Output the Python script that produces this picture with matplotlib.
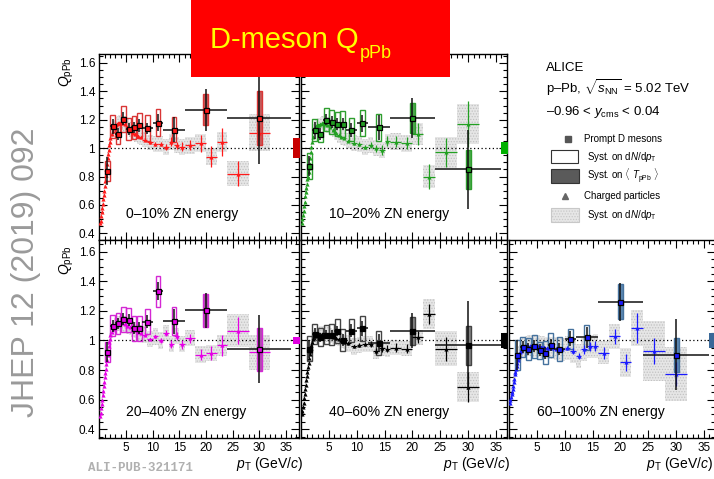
import matplotlib
matplotlib.use("Agg")
import matplotlib.pyplot as plt
from matplotlib.patches import Rectangle
from matplotlib.ticker import MultipleLocator, FixedLocator, FixedFormatter
from matplotlib.transforms import blended_transform_factory

plt.rcParams['font.family'] = ['Liberation Sans', 'DejaVu Sans']
plt.rcParams['mathtext.fontset'] = 'custom'
plt.rcParams['mathtext.rm'] = 'Liberation Sans'
plt.rcParams['mathtext.it'] = 'Liberation Sans:italic'
plt.rcParams['mathtext.bf'] = 'Liberation Sans:bold'
plt.rcParams['hatch.linewidth'] = 0.6

# ---------------- data ----------------
# Prompt D mesons
d_pt = [1.5, 2.5, 3.5, 4.5, 5.5, 6.5, 7.5, 9, 11, 14, 20, 30]
d_hw = [0.5, 0.5, 0.5, 0.5, 0.5, 0.5, 0.5, 1, 1, 2, 4, 6]

d_val_0_10 = [0.84, 1.153, 1.10, 1.207, 1.134, 1.146, 1.16, 1.14, 1.18, 1.13, 1.27, 1.21]
d_stat_0_10 = [0.10, 0.05, 0.04, 0.045, 0.04, 0.04, 0.045, 0.04, 0.06, 0.09, 0.15, 0.32]
d_syst_0_10 = [0.07, 0.08, 0.07, 0.09, 0.08, 0.08, 0.09, 0.09, 0.095, 0.09, 0.11, 0.19]

d_val_10_20 = [0.875, 1.125, 1.10, 1.20, 1.183, 1.17, 1.17, 1.13, 1.176, 1.146, 1.21, 0.85]
d_stat_10_20 = [0.07, 0.06, 0.04, 0.04, 0.04, 0.04, 0.04, 0.05, 0.06, 0.09, 0.14, 0.28]
d_syst_10_20 = [0.09, 0.077, 0.06, 0.08, 0.085, 0.088, 0.094, 0.08, 0.09, 0.095, 0.105, 0.14]

d_val_20_40 = [0.922, 1.10, 1.115, 1.144, 1.138, 1.084, 1.084, 1.127, 1.333, 1.129, 1.204, 0.94]
d_stat_20_40 = [0.07, 0.04, 0.04, 0.04, 0.04, 0.04, 0.04, 0.045, 0.06, 0.085, 0.12, 0.23]
d_syst_20_40 = [0.065, 0.07, 0.07, 0.085, 0.08, 0.085, 0.085, 0.085, 0.105, 0.095, 0.11, 0.145]

d_val_40_60 = [0.944, 1.044, 1.022, 1.038, 1.04, 1.062, 1.004, 1.067, 1.082, 0.982, 1.067, 0.967]
d_stat_40_60 = [0.06, 0.04, 0.03, 0.03, 0.03, 0.035, 0.04, 0.045, 0.05, 0.06, 0.12, 0.30]
d_syst_40_60 = [0.085, 0.07, 0.06, 0.065, 0.07, 0.08, 0.075, 0.08, 0.085, 0.08, 0.095, 0.13]

d_val_60_100 = [0.902, 0.956, 0.94, 0.962, 0.933, 0.918, 0.969, 0.944, 1.011, 1.022, 1.262, 0.902]
d_stat_60_100 = [0.10, 0.04, 0.04, 0.04, 0.04, 0.04, 0.04, 0.04, 0.05, 0.07, 0.13, 0.24]
d_syst_60_100 = [0.10, 0.07, 0.075, 0.078, 0.06, 0.078, 0.08, 0.08, 0.07, 0.085, 0.12, 0.115]

# Charged particles
ch_pt = [0.175, 0.25, 0.35, 0.45, 0.55, 0.65, 0.75, 0.85, 0.95, 1.05, 1.15, 1.25, 1.35, 1.45, 1.55, 1.65, 1.75, 1.85, 1.95,
         2.1, 2.3, 2.5, 2.7, 2.9, 3.1, 3.3, 3.5, 3.7, 3.9,
         4.25, 4.75, 5.25, 5.75, 6.25, 6.75, 7.25, 7.75,
         8.5, 9.5, 10.5, 11.5, 12.5, 13.5, 14.5, 15.5,
         17, 19, 21, 23, 26, 30]
ch_hw = [0.025, 0.05, 0.05, 0.05, 0.05, 0.05, 0.05, 0.05, 0.05, 0.05, 0.05, 0.05, 0.05, 0.05, 0.05, 0.05, 0.05, 0.05, 0.05,
         0.1, 0.1, 0.1, 0.1, 0.1, 0.1, 0.1, 0.1, 0.1, 0.1,
         0.25, 0.25, 0.25, 0.25, 0.25, 0.25, 0.25, 0.25,
         0.5, 0.5, 0.5, 0.5, 0.5, 0.5, 0.5, 0.5,
         1, 1, 1, 1, 2, 2]

ch_val_0_10 = [0.47, 0.49, 0.52, 0.55, 0.58, 0.61, 0.64, 0.67, 0.70, 0.73, 0.77, 0.81, 0.85, 0.89, 0.93, 0.96, 0.99, 1.02, 1.04,
               1.07, 1.10, 1.12, 1.14, 1.15, 1.16, 1.17, 1.175, 1.18, 1.18,
               1.18, 1.17, 1.15, 1.13, 1.11, 1.10, 1.085, 1.075,
               1.06, 1.04, 1.03, 1.03, 1.01, 1.045, 1.02, 1.01,
               1.02, 1.035, 0.94, 1.045, 0.82, 1.11]
ch_stat_0_10 = [0.004, 0.004, 0.004, 0.004, 0.004, 0.004, 0.004, 0.004, 0.004, 0.004, 0.004, 0.004, 0.004, 0.004, 0.004, 0.004, 0.004, 0.004, 0.004,
                0.004, 0.004, 0.004, 0.004, 0.004, 0.004, 0.004, 0.004, 0.004, 0.004,
                0.005, 0.005, 0.005, 0.005, 0.005, 0.005, 0.005, 0.005,
                0.008, 0.01, 0.012, 0.015, 0.02, 0.03, 0.025, 0.03,
                0.035, 0.06, 0.075, 0.10, 0.09, 0.05]
ch_syst_0_10 = [0.04, 0.04, 0.04, 0.04, 0.04, 0.04, 0.04, 0.04, 0.04, 0.04, 0.04, 0.04, 0.04, 0.04, 0.04, 0.04, 0.04, 0.04, 0.04,
                0.05, 0.05, 0.05, 0.05, 0.05, 0.05, 0.05, 0.05, 0.05, 0.05,
                0.055, 0.055, 0.055, 0.055, 0.055, 0.055, 0.055, 0.055,
                0.055, 0.055, 0.055, 0.055, 0.055, 0.055, 0.055, 0.055,
                0.06, 0.065, 0.06, 0.07, 0.09, 0.13]

ch_val_10_20 = [0.47, 0.50, 0.53, 0.56, 0.59, 0.62, 0.66, 0.69, 0.72, 0.75, 0.78, 0.80, 0.83, 0.86, 0.89, 0.93, 0.97, 1.01, 1.04,
                1.08, 1.12, 1.14, 1.155, 1.16, 1.165, 1.165, 1.17, 1.175, 1.175,
                1.17, 1.165, 1.15, 1.13, 1.11, 1.09, 1.08, 1.07,
                1.05, 1.035, 1.03, 1.007, 1.024, 1.0, 0.988, 1.047,
                1.045, 1.035, 1.10, 0.80, 0.97, 1.17]
ch_stat_10_20 = [0.004, 0.004, 0.004, 0.004, 0.004, 0.004, 0.004, 0.004, 0.004, 0.004, 0.004, 0.004, 0.004, 0.004, 0.004, 0.004, 0.004, 0.004, 0.004,
                 0.004, 0.004, 0.004, 0.004, 0.004, 0.004, 0.004, 0.004, 0.004, 0.004,
                 0.005, 0.005, 0.005, 0.005, 0.005, 0.005, 0.005, 0.005,
                 0.008, 0.01, 0.012, 0.015, 0.02, 0.025, 0.035, 0.035,
                 0.04, 0.04, 0.08, 0.09, 0.10, 0.16]
ch_syst_10_20 = [0.04, 0.04, 0.04, 0.04, 0.04, 0.04, 0.04, 0.04, 0.04, 0.04, 0.04, 0.04, 0.04, 0.04, 0.04, 0.04, 0.04, 0.04, 0.04,
                 0.05, 0.05, 0.05, 0.05, 0.05, 0.05, 0.05, 0.05, 0.05, 0.05,
                 0.055, 0.055, 0.055, 0.055, 0.055, 0.055, 0.055, 0.055,
                 0.055, 0.055, 0.055, 0.055, 0.055, 0.055, 0.055, 0.055,
                 0.06, 0.06, 0.08, 0.08, 0.11, 0.14]

ch_val_20_40 = [0.49, 0.51, 0.54, 0.57, 0.60, 0.63, 0.66, 0.69, 0.72, 0.75, 0.78, 0.81, 0.84, 0.87, 0.90, 0.93, 0.96, 0.99, 1.01,
                1.04, 1.06, 1.08, 1.09, 1.10, 1.105, 1.11, 1.115, 1.115, 1.12,
                1.12, 1.11, 1.10, 1.09, 1.08, 1.07, 1.06, 1.05,
                1.04, 1.01, 1.027, 1.0, 1.05, 0.975, 1.03, 0.975,
                1.015, 0.905, 0.915, 0.967, 1.067, 0.92]
ch_stat_20_40 = [0.004, 0.004, 0.004, 0.004, 0.004, 0.004, 0.004, 0.004, 0.004, 0.004, 0.004, 0.004, 0.004, 0.004, 0.004, 0.004, 0.004, 0.004, 0.004,
                 0.004, 0.004, 0.004, 0.004, 0.004, 0.004, 0.004, 0.004, 0.004, 0.004,
                 0.005, 0.005, 0.005, 0.005, 0.005, 0.005, 0.005, 0.005,
                 0.008, 0.01, 0.012, 0.015, 0.02, 0.025, 0.03, 0.03,
                 0.03, 0.04, 0.05, 0.07, 0.09, 0.05]
ch_syst_20_40 = [0.04, 0.04, 0.04, 0.04, 0.04, 0.04, 0.04, 0.04, 0.04, 0.04, 0.04, 0.04, 0.04, 0.04, 0.04, 0.04, 0.04, 0.04, 0.04,
                 0.05, 0.05, 0.05, 0.05, 0.05, 0.05, 0.05, 0.05, 0.05, 0.05,
                 0.055, 0.055, 0.055, 0.055, 0.055, 0.055, 0.055, 0.055,
                 0.055, 0.055, 0.055, 0.055, 0.055, 0.055, 0.055, 0.055,
                 0.055, 0.06, 0.055, 0.07, 0.11, 0.12]

ch_val_40_60 = [0.50, 0.52, 0.55, 0.58, 0.61, 0.64, 0.67, 0.70, 0.73, 0.76, 0.79, 0.82, 0.85, 0.88, 0.91, 0.93, 0.95, 0.97, 0.99,
                1.01, 1.02, 1.03, 1.035, 1.04, 1.04, 1.045, 1.045, 1.045, 1.045,
                1.045, 1.04, 1.035, 1.025, 1.02, 1.01, 1.0, 0.99,
                0.98, 0.96, 0.97, 0.978, 0.978, 0.93, 0.95, 0.944,
                0.95, 0.944, 1.022, 1.18, 0.944, 0.684]
ch_stat_40_60 = [0.004, 0.004, 0.004, 0.004, 0.004, 0.004, 0.004, 0.004, 0.004, 0.004, 0.004, 0.004, 0.004, 0.004, 0.004, 0.004, 0.004, 0.004, 0.004,
                 0.004, 0.004, 0.004, 0.004, 0.004, 0.004, 0.004, 0.004, 0.004, 0.004,
                 0.005, 0.005, 0.005, 0.005, 0.005, 0.005, 0.005, 0.005,
                 0.008, 0.01, 0.012, 0.015, 0.02, 0.02, 0.025, 0.025,
                 0.03, 0.03, 0.04, 0.07, 0.08, 0.10]
ch_syst_40_60 = [0.04, 0.04, 0.04, 0.04, 0.04, 0.04, 0.04, 0.04, 0.04, 0.04, 0.04, 0.04, 0.04, 0.04, 0.04, 0.04, 0.04, 0.04, 0.04,
                 0.05, 0.05, 0.05, 0.05, 0.05, 0.05, 0.05, 0.05, 0.05, 0.05,
                 0.05, 0.05, 0.05, 0.05, 0.05, 0.05, 0.05, 0.05,
                 0.055, 0.055, 0.055, 0.055, 0.055, 0.055, 0.055, 0.055,
                 0.05, 0.05, 0.05, 0.10, 0.12, 0.10]

ch_val_60_100 = [0.58, 0.60, 0.62, 0.635, 0.65, 0.67, 0.69, 0.72, 0.74, 0.77, 0.79, 0.81, 0.83, 0.85, 0.87, 0.88, 0.90, 0.91, 0.92,
                 0.93, 0.94, 0.95, 0.955, 0.96, 0.96, 0.965, 0.965, 0.965, 0.965,
                 0.965, 0.96, 0.96, 0.955, 0.955, 0.95, 0.95, 0.95,
                 0.945, 0.94, 0.95, 0.93, 0.895, 0.94, 0.96, 0.962,
                 0.918, 1.029, 0.851, 1.084, 0.929, 0.773]
ch_stat_60_100 = [0.004, 0.004, 0.004, 0.004, 0.004, 0.004, 0.004, 0.004, 0.004, 0.004, 0.004, 0.004, 0.004, 0.004, 0.004, 0.004, 0.004, 0.004, 0.004,
                  0.004, 0.004, 0.004, 0.004, 0.004, 0.004, 0.004, 0.004, 0.004, 0.004,
                  0.005, 0.005, 0.005, 0.005, 0.005, 0.005, 0.005, 0.005,
                  0.01, 0.012, 0.015, 0.02, 0.02, 0.03, 0.03, 0.035,
                  0.04, 0.05, 0.06, 0.10, 0.09, 0.08]
ch_syst_60_100 = [0.06, 0.06, 0.06, 0.06, 0.06, 0.06, 0.06, 0.06, 0.06, 0.06, 0.06, 0.06, 0.06, 0.06, 0.06, 0.06, 0.06, 0.06, 0.06,
                  0.07, 0.07, 0.07, 0.07, 0.07, 0.07, 0.07, 0.07, 0.07, 0.07,
                  0.075, 0.075, 0.075, 0.075, 0.075, 0.075, 0.075, 0.075,
                  0.08, 0.08, 0.08, 0.08, 0.08, 0.08, 0.08, 0.08,
                  0.08, 0.085, 0.10, 0.12, 0.20, 0.18]

# normalisation (<T_pPb>) uncertainty per class
tpb_unc = [0.07, 0.04, 0.022, 0.05, 0.052]

labels = ['0\u201310% ZN energy', '10\u201320% ZN energy', '20\u201340% ZN energy',
          '40\u201360% ZN energy', '60\u2013100% ZN energy']
y_ticks = [0.4, 0.6, 0.8, 1.0, 1.2, 1.4, 1.6]
y_tick_labels = ['0.4', '0.6', '0.8', '1', '1.2', '1.4', '1.6']
x_ticks = [5, 10, 15, 20, 25, 30, 35]
x_tick_labels = ['5', '10', '15', '20', '25', '30', '35']

# ---------------- figure ----------------
W, H = 714, 479
fig = plt.figure(figsize=(W / 100, H / 100), dpi=100)
fig.patch.set_facecolor('white')


def rect(x0, y0, x1, y1):
    return [x0 / W, 1 - y1 / H, (x1 - x0) / W, (y1 - y0) / H]


def panel(pos, xmax, ylim, col, boxcol, fillcol, tpbcol,
          cv, cs, cy, dv, ds, dy, tpb, label, lab_y, show_x, show_y):
    ax = fig.add_axes(pos)
    ax.set_xlim(0, xmax)
    ax.set_ylim(*ylim)
    for x, hw, v, s in zip(ch_pt, ch_hw, cv, cy):
        ax.add_patch(Rectangle((x - hw, v - s), 2 * hw, 2 * s, facecolor='#e6e6e6',
                               edgecolor='#c2c2c2', hatch='......', linewidth=0, zorder=1))
    ax.axhline(1.0, color='black', lw=0.9, ls=(0, (1, 2)), zorder=2)
    for i, (x, v, s) in enumerate(zip(d_pt, dv, dy)):
        fc = fillcol if i >= 10 else 'none'
        ax.add_patch(Rectangle((x - 0.45, v - s), 0.9, 2 * s, facecolor=fc,
                               edgecolor=boxcol, linewidth=1.0, zorder=3))
    ax.errorbar(ch_pt, cv, yerr=cs, xerr=ch_hw, fmt='^', color=col, ms=3, mew=0,
                lw=0.9, capsize=0, zorder=4)
    ax.errorbar(d_pt, dv, yerr=ds, xerr=d_hw, fmt='none', ecolor='#111111',
                lw=1.1, capsize=0, zorder=5)
    ax.plot(d_pt, dv, 's', mfc=col, mec='black', ms=3.6, mew=0.9, ls='none', zorder=6)
    tr = blended_transform_factory(ax.transAxes, ax.transData)
    ax.add_patch(Rectangle((0.972, 1 - tpb), 0.033, 2 * tpb, transform=tr,
                           facecolor=tpbcol, edgecolor='none', clip_on=False, zorder=7))
    ax.text(0.135, lab_y, label, transform=ax.transAxes, fontsize=10,
            va='center', ha='left', zorder=8)
    ax.xaxis.set_major_locator(FixedLocator(x_ticks))
    ax.xaxis.set_major_formatter(FixedFormatter(x_tick_labels))
    ax.xaxis.set_minor_locator(MultipleLocator(1))
    ax.yaxis.set_major_locator(FixedLocator(y_ticks))
    ax.yaxis.set_major_formatter(FixedFormatter(y_tick_labels))
    ax.yaxis.set_minor_locator(MultipleLocator(0.05))
    ax.tick_params(which='both', direction='in', top=True, right=True, width=0.8,
                   labelsize=8.5, pad=3, labelbottom=show_x, labelleft=show_y)
    ax.tick_params(which='major', length=6)
    ax.tick_params(which='minor', length=3)
    for sp in ax.spines.values():
        sp.set_linewidth(1.0)
    return ax


top_ylim = (0.353, 1.663)
bot_ylim = (0.34, 1.68)

panel(rect(99.3, 54, 299, 240), 37.47, top_ylim, '#ff1a1a', '#d93636', '#c45a5a', '#c80000',
      ch_val_0_10, ch_stat_0_10, ch_syst_0_10, d_val_0_10, d_stat_0_10, d_syst_0_10,
      tpb_unc[0], labels[0], 0.14, False, True)
panel(rect(301, 54, 507, 240), 37.0, top_ylim, '#22a022', '#2e9e2e', '#4aa84a', '#00b000',
      ch_val_10_20, ch_stat_10_20, ch_syst_10_20, d_val_10_20, d_stat_10_20, d_syst_10_20,
      tpb_unc[1], labels[1], 0.14, False, False)
panel(rect(99.3, 240, 299, 438), 37.47, bot_ylim, '#e600e6', '#d428d4', '#b050b0', '#e000e0',
      ch_val_20_40, ch_stat_20_40, ch_syst_20_40, d_val_20_40, d_stat_20_40, d_syst_20_40,
      tpb_unc[2], labels[2], 0.13, True, True)
panel(rect(301, 240, 507, 438), 37.0, bot_ylim, '#000000', '#444444', '#808080', '#000000',
      ch_val_40_60, ch_stat_40_60, ch_syst_40_60, d_val_40_60, d_stat_40_60, d_syst_40_60,
      tpb_unc[3], labels[3], 0.13, True, False)
panel(rect(509, 240, 715, 438), 37.0, bot_ylim, '#1a1aff', '#46729e', '#5b86b0', '#3a6898',
      ch_val_60_100, ch_stat_60_100, ch_syst_60_100, d_val_60_100, d_stat_60_100, d_syst_60_100,
      tpb_unc[4], labels[4], 0.13, True, False)

# ---------------- overlay (pixel coordinates) ----------------
ov = fig.add_axes([0, 0, 1, 1], zorder=10)
ov.set_xlim(0, W)
ov.set_ylim(H, 0)
ov.axis('off')
ov.patch.set_alpha(0)

# title box
ov.add_patch(Rectangle((191, 0), 259, 77, facecolor='#ff0000', edgecolor='none'))
t = ov.text(210, 48, 'D-meson Q', color='#ffff00', fontsize=21, va='baseline', ha='left')
fig.canvas.draw()
bb = t.get_window_extent()
ov.text(bb.x1 + 1, 58, 'pPb', color='#ffff00', fontsize=13, va='baseline', ha='left')

# side texts
ov.text(26, 272, 'JHEP 12 (2019) 092', rotation=90, fontsize=23, color='#9a9a9a',
        ha='center', va='center')
ov.text(88, 468, 'ALI-PUB-321171', family='Liberation Mono', weight='bold', fontsize=9,
        color='#b0b0b0', ha='left', va='center')

# axis titles
for ytop in (57, 245):
    ov.text(67, ytop, r'$Q_{\rm pPb}$', rotation=90, fontsize=10, ha='center', va='top')
for xr in (303, 510, 713):
    ov.text(xr, 464, r'$p_{\rm T}$ (GeV/$c$)', fontsize=10, ha='right', va='center')

# legend area
ov.text(546, 68, 'ALICE', fontsize=9.5, va='center', ha='left')
ov.text(546, 88, r'p\u2013Pb, $\sqrt{s_{\rm NN}}$ = 5.02 TeV'.replace('\\u2013', '\u2013'),
        fontsize=9.5, va='center', ha='left')
ov.text(546, 112, '\u20130.96 < $y_{\\rm cms}$ < 0.04', fontsize=9.5, va='center', ha='left')

ov.plot([568], [139], 's', color='#555555', ms=4.5)
ov.text(584, 139, 'Prompt D mesons', fontsize=7, va='center', ha='left')
ov.add_patch(Rectangle((551, 150), 27, 13, facecolor='white', edgecolor='#333333', lw=0.8))
ov.text(587, 157, r'Syst. on d$N$/d$p_{\rm T}$', fontsize=7, va='center', ha='left')
ov.add_patch(Rectangle((551, 169), 28, 14, facecolor='#5a5a5a', edgecolor='#333333', lw=0.8))
ov.text(587, 176, r'Syst. on $\langle$ $T_{\rm pPb}$ $\rangle$', fontsize=7, va='center', ha='left')
ov.plot([565], [196], '^', color='#666666', ms=4.5)
ov.text(584, 196, 'Charged particles', fontsize=7, va='center', ha='left')
ov.add_patch(Rectangle((551, 208), 28, 14, facecolor='#e6e6e6', edgecolor='#c8c8c8',
                       hatch='......', lw=0.8))
ov.text(587, 215, r'Syst. on d$N$/d$p_{\rm T}$', fontsize=7, va='center', ha='left')

fig.savefig('out.png', dpi=100)
